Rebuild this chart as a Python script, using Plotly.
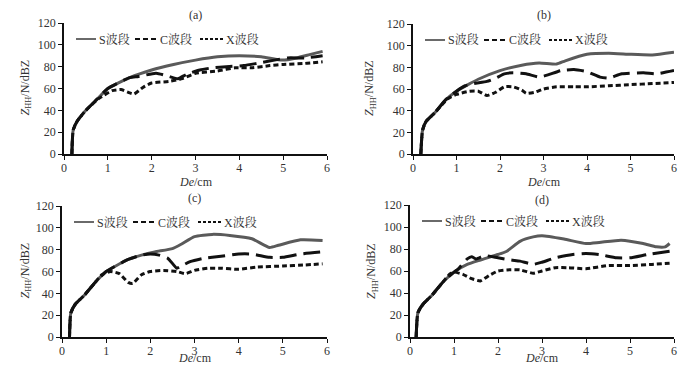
import plotly.graph_objects as go

# ---- data ----
panel_labels = ["(a)", "(b)", "(c)", "(d)"]
series_names = ["S波段", "C波段", "X波段"]
x_ticks = [0, 1, 2, 3, 4, 5, 6]
y_ticks = [0, 20, 40, 60, 80, 100, 120]

# Panel (a)
a_S_x = [0.18, 0.21, 0.3, 0.5, 0.75, 1.0, 1.5, 2.0, 2.5, 3.0, 3.5, 4.0, 4.5, 4.8, 5.0, 5.3, 5.6, 5.9]
a_S_y = [0, 22, 30, 40, 50, 60, 70, 77, 82, 86, 89, 90, 89, 87, 86, 88, 91, 94]
a_C_x = [0.18, 0.21, 0.3, 0.5, 0.75, 1.0, 1.5, 1.7, 2.1, 2.4, 2.6, 2.8, 3.1, 3.4, 3.7, 4.1, 4.4, 4.8, 5.1, 5.5, 5.9]
a_C_y = [0, 22, 30, 40, 50, 60, 70, 71, 74, 71, 69, 73, 77, 79, 80, 81, 83, 86, 88, 88, 90]
a_X_x = [0.18, 0.21, 0.3, 0.5, 0.8, 1.1, 1.3, 1.5, 1.6, 1.8, 2.0, 2.4, 2.7, 3.0, 3.5, 3.9, 4.3, 4.7, 5.0, 5.5, 5.9]
a_X_y = [0, 22, 30, 40, 51, 58, 59, 56, 55, 61, 65, 66.5, 69, 74, 76, 79, 79, 81, 82, 83, 84.5]

# Panel (b)
b_S_x = [0.18, 0.22, 0.3, 0.5, 0.75, 1.0, 1.5, 2.0, 2.5, 2.9, 3.3, 3.5, 4.0, 4.5, 5.0, 5.5, 6.0]
b_S_y = [0, 22, 30, 38, 50, 58, 69, 77, 82, 84, 83, 86, 92, 93, 92, 91.5, 94]
b_C_x = [0.18, 0.22, 0.3, 0.5, 0.75, 1.0, 1.2, 1.4, 1.7, 1.9, 2.1, 2.3, 2.6, 2.9, 3.1, 3.4, 3.7, 4.0, 4.3, 4.5, 4.8, 5.3, 5.6, 6.0]
b_C_y = [0, 22, 30, 38, 50, 58, 63, 65, 67, 70, 74, 75, 74, 71, 73, 77, 78, 76, 71, 70, 74, 75, 74, 77]
b_X_x = [0.18, 0.22, 0.3, 0.5, 0.8, 1.0, 1.3, 1.5, 1.7, 1.9, 2.1, 2.3, 2.5, 2.6, 2.8, 3.0, 3.3, 3.7, 4.0, 4.5, 5.0, 5.5, 6.0]
b_X_y = [0, 22, 30, 38, 51, 55, 58, 58, 54, 57, 62, 62, 59, 56, 57, 60, 62, 62, 62, 63, 64, 65, 66]

# Panel (c)
c_S_x = [0.17, 0.2, 0.3, 0.5, 0.75, 1.0, 1.5, 1.8, 2.1, 2.5, 2.7, 3.0, 3.4, 3.8, 4.3, 4.7, 4.9, 5.4, 5.9]
c_S_y = [0, 22, 30, 38, 50, 60, 71, 75, 78, 81, 85, 92, 94, 93, 90, 82, 84, 89, 88.5]
c_C_x = [0.17, 0.2, 0.3, 0.5, 0.75, 1.0, 1.5, 1.8, 2.0, 2.2, 2.4, 2.6, 2.7, 2.9, 3.2, 3.6, 4.0, 4.3, 4.7, 5.0, 5.4, 5.9]
c_C_y = [0, 22, 30, 38, 50, 60, 71, 75, 76, 75, 72, 63, 65, 69, 72, 74, 76, 76, 73, 73, 76, 78]
c_X_x = [0.17, 0.2, 0.3, 0.5, 0.75, 0.9, 1.1, 1.3, 1.5, 1.6, 1.8, 2.0, 2.3, 2.6, 2.8, 3.0, 3.3, 3.6, 4.0, 4.4, 5.0, 5.5, 5.9]
c_X_y = [0, 22, 30, 38, 50, 57, 60, 58, 50, 49, 57, 60, 61, 60, 58, 61, 63, 63, 62, 64, 65, 66, 67]

# Panel (d)
d_S_x = [0.14, 0.18, 0.3, 0.5, 0.75, 1.0, 1.3, 1.6, 2.0, 2.2, 2.5, 2.8, 3.0, 3.5, 4.0, 4.3, 4.8, 5.3, 5.6, 5.8, 5.9]
d_S_y = [0, 22, 30, 38, 50, 59, 66, 70, 75, 78, 87, 91, 92, 89, 85, 86, 88, 85, 82, 82, 85]
d_C_x = [0.14, 0.18, 0.3, 0.5, 0.75, 1.0, 1.1, 1.3, 1.4, 1.5, 1.7, 2.0, 2.3, 2.5, 2.8, 3.0, 3.3, 3.7, 4.0, 4.3, 4.7, 5.0, 5.4, 5.9]
d_C_y = [0, 22, 30, 38, 50, 59, 62, 71, 73, 71, 74, 72, 70, 69, 66, 68, 72, 75, 76, 75, 72, 72, 75, 78]
d_X_x = [0.14, 0.18, 0.3, 0.5, 0.75, 0.9, 1.0, 1.2, 1.4, 1.6, 1.8, 2.0, 2.2, 2.5, 2.8, 3.0, 3.3, 3.6, 4.0, 4.5, 5.0, 5.5, 5.9]
d_X_y = [0, 22, 30, 38, 50, 57, 59, 57, 53, 51, 56, 60, 61, 61, 58, 60, 63, 63, 62, 65, 65, 66, 67]

panels = [
    (a_S_x, a_S_y, a_C_x, a_C_y, a_X_x, a_X_y),
    (b_S_x, b_S_y, b_C_x, b_C_y, b_X_x, b_X_y),
    (c_S_x, c_S_y, c_C_x, c_C_y, c_X_x, c_X_y),
    (d_S_x, d_S_y, d_C_x, d_C_y, d_X_x, d_X_y),
]

# ---- layout geometry (pixels in the 691x375 window) ----
OFF = 8                      # default page body margin
W, H = 691 - 2 * OFF, 375 - 2 * OFF
px_x = [(64, 327), (413, 674), (62, 327), (410, 674)]
px_y = [(23, 154), (24, 154), (206, 337), (205, 337)]
title_y = [15, 15, 198, 200]
xtitle_bottom = [191, 191, 367, 367]   # bottom edge of the x-title box
ytitle_x = [25, 370, 25, 372]

FONT = "Liberation Serif, Times New Roman, Noto Serif CJK SC, Noto Sans CJK SC, serif"
TXT = "#333333"
styles = [
    dict(color="#5a5a5a", width=3, dash="solid"),
    dict(color="#111111", width=3, dash="17px,7px"),
    dict(color="#111111", width=3, dash="5px,3px"),
]
leg_dash = ["solid", "5px,3px", "3px,2px"]
leg_off = [(12, 32), (71, 93), (136, 159)]  # sample start/end offset from axis


def fx(p):
    return (p - OFF) / W


def fy(p):
    return 1 - (p - OFF) / H


fig = go.Figure()
layout = dict(
    width=W, height=H, margin=dict(l=0, r=0, t=0, b=0, pad=0, autoexpand=False),
    paper_bgcolor="white", plot_bgcolor="white",
    font=dict(family=FONT, size=12, color=TXT),
    showlegend=False,
)
annotations = []
shapes = []
for i, data in enumerate(panels):
    k = "" if i == 0 else str(i + 1)
    x0, x1 = px_x[i]
    y0, y1 = px_y[i]
    xd = [fx(x0), fx(x1)]
    yd = [fy(y1), fy(y0)]
    for s in range(3):
        fig.add_trace(go.Scatter(
            x=data[2 * s], y=data[2 * s + 1], mode="lines", name=series_names[s],
            line=dict(color=styles[s]["color"], width=styles[s]["width"],
                      dash=styles[s]["dash"], shape="spline", smoothing=0.5),
            xaxis="x" + k, yaxis="y" + k,
        ))
    layout["xaxis" + k] = dict(
        domain=xd, range=[0, 6], tickvals=x_ticks, showgrid=False, zeroline=False,
        showline=True, linecolor="#111", linewidth=1.5, ticks="outside", ticklen=4,
        tickcolor="#111", tickfont=dict(size=12, color=TXT), anchor="y" + k,
        automargin=False, ticklabelstandoff=-2,
    )
    layout["yaxis" + k] = dict(
        domain=yd, range=[0, 120], tickvals=y_ticks, showgrid=False, zeroline=False,
        showline=True, linecolor="#111", linewidth=1.5, ticks="outside", ticklen=4,
        tickcolor="#111", tickfont=dict(size=12, color=TXT), anchor="x" + k,
        automargin=False,
    )
    # panel title
    annotations.append(dict(
        text=panel_labels[i], x=(xd[0] + xd[1]) / 2, y=fy(title_y[i]),
        xref="paper", yref="paper", showarrow=False, font=dict(size=12, color=TXT),
        xanchor="center", yanchor="middle",
    ))
    # axis titles
    annotations.append(dict(
        text="<i>De</i>/cm", x=(xd[0] + xd[1]) / 2, y=fy(xtitle_bottom[i]),
        xref="paper", yref="paper", showarrow=False, font=dict(size=12, color=TXT),
        xanchor="center", yanchor="bottom",
    ))
    annotations.append(dict(
        text="<i>Z</i><sub>HH</sub>/N/dBZ", x=fx(ytitle_x[i]), y=(yd[0] + yd[1]) / 2,
        xref="paper", yref="paper", showarrow=False, font=dict(size=12, color=TXT),
        xanchor="center", yanchor="middle", textangle=-90,
    ))
    # legend (drawn inside each panel)
    ly = y0 + 16
    for s in range(3):
        sx0, sx1 = x0 + leg_off[s][0], x0 + leg_off[s][1]
        shapes.append(dict(
            type="line", xref="paper", yref="paper", x0=fx(sx0), x1=fx(sx1),
            y0=fy(ly), y1=fy(ly),
            line=dict(color=styles[s]["color"], width=2 if s else 1.8, dash=leg_dash[s]),
        ))
        annotations.append(dict(
            text=series_names[s], x=fx(sx1 + 1), y=fy(ly),
            xref="paper", yref="paper", showarrow=False, font=dict(size=12, color=TXT),
            xanchor="left", yanchor="middle",
        ))
layout["annotations"] = annotations
layout["shapes"] = shapes
fig.update_layout(**layout)
fig.write_html("out.html")
